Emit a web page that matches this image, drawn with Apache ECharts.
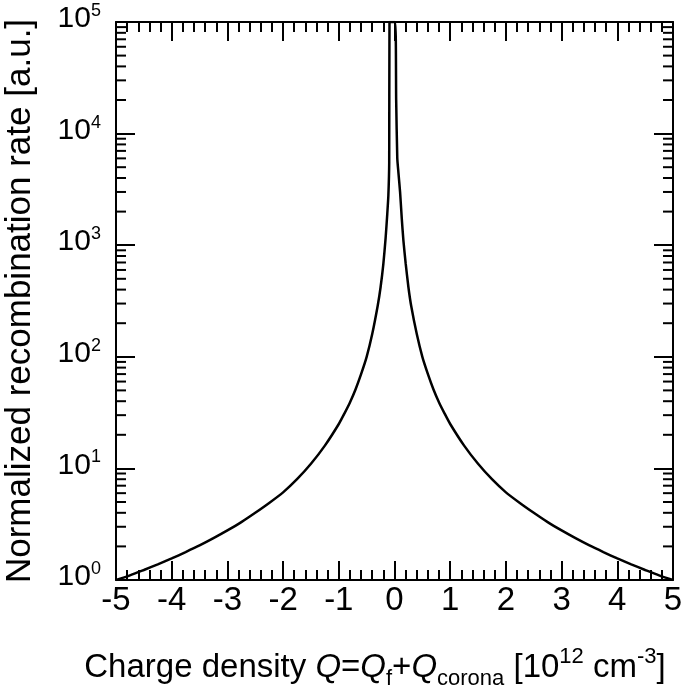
<!DOCTYPE html>
<html>
<head>
<meta charset="utf-8">
<script src="https://cdn.jsdelivr.net/npm/echarts@6/dist/echarts.min.js"></script>
<style>html,body{margin:0;padding:0;background:#fff}#c{width:685px;height:699px}</style>
</head>
<body>
<div id="c"></div>
<script>
// Charge density Q [10^12 cm^-3]
const chargeDensity = [
  -5, -4.75, -4.5, -4.25, -4, -3.75, -3.5, -3.25, -3, -2.75, -2.5, -2.25, -2, -1.75, -1.5, -1.25, -1,
  -0.9, -0.8, -0.7, -0.6, -0.5, -0.4, -0.3, -0.25, -0.2, -0.16, -0.13, -0.11, -0.095, -0.09,
  0.01, 0.03, 0.05, 0.07, 0.1, 0.13, 0.16, 0.2, 0.25, 0.3, 0.4, 0.5, 0.6, 0.7, 0.8, 0.9,
  1, 1.25, 1.5, 1.75, 2, 2.25, 2.5, 2.75, 3, 3.25, 3.5, 3.75, 4, 4.25, 4.5, 4.75, 5];
// Normalized recombination rate [a.u.]
const recombRate = [
  1.0, 1.1, 1.23, 1.38, 1.56, 1.78, 2.04, 2.37, 2.78, 3.3, 4.0, 4.9, 6.1, 8.0, 11, 16, 25,
  31, 39, 51, 70, 100, 160, 290, 420, 680, 1150, 1900, 2800, 5500, 100000,
  100000, 20000, 6000, 4500, 3000, 1750, 1100, 690, 420, 285, 160, 100, 70, 51, 39, 31,
  25, 16, 11, 8.0, 6.1, 4.9, 4.0, 3.3, 2.78, 2.37, 2.04, 1.78, 1.56, 1.38, 1.23, 1.1, 1.0];
const xTicks = [-5, -4, -3, -2, -1, 0, 1, 2, 3, 4, 5];
const yDecades = [1, 10, 100, 1000, 10000, 100000];
const yMinor = [];
for (let d = 0; d < yDecades.length - 1; d++) for (let k = 2; k <= 9; k++) yMinor.push(k * yDecades[d]);

const X_MIN = xTicks[0], X_MAX = xTicks[xTicks.length - 1];
const FONT = '"Liberation Sans", Arial, sans-serif';

const chart = echarts.init(document.getElementById('c'), null, {renderer: 'canvas'});
const axisLine = {show: true, onZero: false, lineStyle: {color: '#000', width: 2}};
const tickMajor = {show: true, inside: true, length: 19, lineStyle: {color: '#000', width: 2}};
const yLabelRich = {
  b: {fontSize: 30, fontFamily: FONT, color: '#000', lineHeight: 40, padding: [0, 0, 6, 0]},
  s: {fontSize: 18, fontFamily: FONT, color: '#000', verticalAlign: 'top', lineHeight: 18}
};
const option = {
  animation: false,
  backgroundColor: '#fff',
  grid: {left: 116, right: 12, top: 22, bottom: 119, outerBoundsMode: 'none', containLabel: false},
  xAxis: [
    {type: 'value', min: X_MIN, max: X_MAX, interval: 1, position: 'bottom',
     axisLine, axisTick: tickMajor,
     minorTick: {show: true, splitNumber: 5, length: 10, lineStyle: {color: '#000', width: 2}},
     splitLine: {show: false},
     axisLabel: {fontSize: 33, fontFamily: FONT, color: '#000', margin: 4}},
    {type: 'value', min: X_MIN, max: X_MAX, interval: 1, position: 'top',
     axisLine, axisTick: tickMajor,
     minorTick: {show: true, splitNumber: 5, length: 10, lineStyle: {color: '#000', width: 2}},
     splitLine: {show: false}, axisLabel: {show: false}}
  ],
  yAxis: [
    {type: 'log', logBase: 10, min: yDecades[0], max: yDecades[yDecades.length - 1], position: 'left',
     axisLine, axisTick: tickMajor, splitLine: {show: false},
     axisLabel: {margin: 15, formatter: v => '{b|10}{s|' + Math.round(Math.log10(v)) + '}', rich: yLabelRich},
     name: 'Normalized recombination rate [a.u.]', nameLocation: 'middle', nameGap: 78,
     nameTextStyle: {fontSize: 35, fontFamily: FONT, color: '#000'}},
    {type: 'log', logBase: 10, min: yDecades[0], max: yDecades[yDecades.length - 1], position: 'right',
     axisLine, axisTick: tickMajor, splitLine: {show: false}, axisLabel: {show: false}}
  ],
  graphic: [{
    type: 'text', x: 375, y: 668,
    style: {
      text: '{n|Charge density }{i|Q}{n|=}{i|Q}{sub|f}{n|+}{i|Q}{sub|corona}{n| [10}{sup|12}{n| cm}{sup|-3}{n|]}',
      align: 'center', verticalAlign: 'middle',
      rich: {
        n: {fontSize: 33, fontFamily: FONT, fill: '#000', lineHeight: 44},
        i: {fontSize: 33, fontFamily: FONT, fontStyle: 'italic', fill: '#000', lineHeight: 44},
        sub: {fontSize: 22, fontFamily: FONT, fill: '#000', verticalAlign: 'bottom', lineHeight: 22},
        sup: {fontSize: 22, fontFamily: FONT, fill: '#000', verticalAlign: 'top', lineHeight: 22}
      }
    }
  }],
  series: [
    {type: 'line', xAxisIndex: 0, yAxisIndex: 0, showSymbol: false, symbol: 'none', smooth: 0.2,
     data: chargeDensity.map((q, i) => [q, recombRate[i]]),
     lineStyle: {color: '#000', width: 2.5}, clip: true},
    {type: 'custom', xAxisIndex: 0, yAxisIndex: 0, silent: true,
     data: yMinor.map(v => [X_MIN, v]),
     encode: {x: 0, y: 1},
     renderItem: (params, api) => {
       const v = api.value(1);
       const pl = api.coord([X_MIN, v]);
       const pr = api.coord([X_MAX, v]);
       const st = {stroke: '#000', lineWidth: 2};
       return {type: 'group', children: [
         {type: 'line', shape: {x1: pl[0], y1: pl[1], x2: pl[0] + 10, y2: pl[1]}, style: st},
         {type: 'line', shape: {x1: pr[0], y1: pr[1], x2: pr[0] - 10, y2: pr[1]}, style: st}
       ]};
     }}
  ]
};
chart.setOption(option);
</script>
</body>
</html>
